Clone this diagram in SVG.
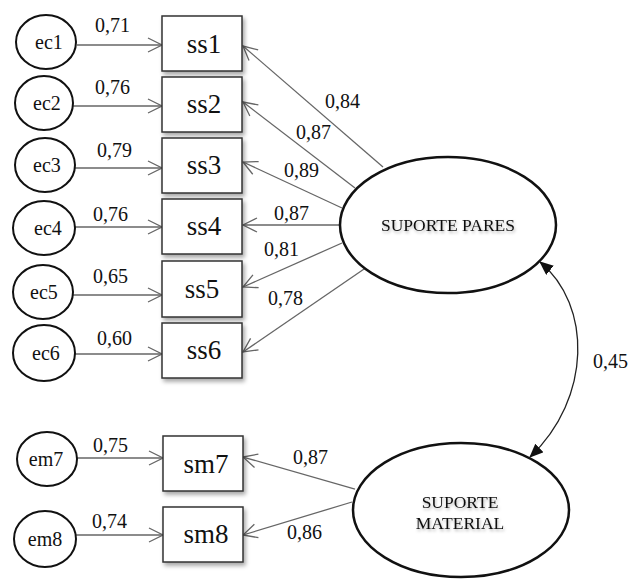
<svg xmlns="http://www.w3.org/2000/svg" width="632" height="579" viewBox="0 0 632 579">
<style>
text{font-family:"Liberation Serif","Times New Roman",serif;fill:#111}
.lbl{font-size:20px}
.etx{font-size:20px;text-anchor:middle}
.btx{font-size:27px;text-anchor:middle}
.ltx{font-size:17.5px;text-anchor:middle;filter:url(#tsh)}
.sm{fill:#fff;stroke:#111;stroke-width:2}
.big{fill:#fff;stroke:#111;stroke-width:2.5}
.box{fill:#fff;stroke:#333;stroke-width:1.5;filter:url(#sh)}
.ld{stroke:#666;stroke-width:1.3;fill:none;marker-end:url(#open)}
.cv{stroke:#222;stroke-width:1.3;fill:none;marker-start:url(#solid);marker-end:url(#solid)}
</style>
<defs>
<marker id="open" markerUnits="userSpaceOnUse" markerWidth="16" markerHeight="16" viewBox="0 0 16 16" refX="15" refY="8" orient="auto">
<path d="M1,1 L15,8 L1,15" fill="none" stroke="#666" stroke-width="1.3"/>
</marker>
<marker id="solid" markerUnits="userSpaceOnUse" markerWidth="14" markerHeight="12" viewBox="0 0 14 12" refX="13" refY="6" orient="auto-start-reverse">
<path d="M0,0 L14,6 L0,12 Z" fill="#111"/>
</marker>
<filter id="sh" x="-10%" y="-10%" width="130%" height="140%">
<feDropShadow dx="2" dy="3" stdDeviation="2" flood-color="#000" flood-opacity="0.35"/>
</filter>
<filter id="tsh" x="-10%" y="-30%" width="120%" height="180%">
<feDropShadow dx="1" dy="2" stdDeviation="1.5" flood-color="#000" flood-opacity="0.3"/>
</filter>
</defs>

<g id="connectors">
<line class="ld" x1="77" y1="45" x2="162" y2="45"/>
<line class="ld" x1="73" y1="106" x2="162" y2="106"/>
<line class="ld" x1="75" y1="168" x2="162" y2="168"/>
<line class="ld" x1="75" y1="227" x2="162" y2="227"/>
<line class="ld" x1="73" y1="295" x2="162" y2="295"/>
<line class="ld" x1="75" y1="354" x2="162" y2="354"/>
<line class="ld" x1="77" y1="458" x2="163" y2="458"/>
<line class="ld" x1="76" y1="535" x2="163" y2="535"/>
<line class="ld" x1="383" y1="167" x2="243" y2="46"/>
<line class="ld" x1="355" y1="188" x2="243" y2="102"/>
<line class="ld" x1="342" y1="208" x2="243" y2="162"/>
<line class="ld" x1="340" y1="225" x2="243" y2="225"/>
<line class="ld" x1="342" y1="243" x2="243" y2="287"/>
<line class="ld" x1="367" y1="267" x2="243" y2="352"/>
<line class="ld" x1="355" y1="489" x2="243" y2="457"/>
<line class="ld" x1="352" y1="502" x2="243" y2="535"/>
<path class="cv" d="M540,262 C592,305 592,398 530,457"/>
<text class="lbl" x="95" y="32">0,71</text>
<text class="lbl" x="95" y="94">0,76</text>
<text class="lbl" x="97" y="157">0,79</text>
<text class="lbl" x="93" y="221">0,76</text>
<text class="lbl" x="93" y="283">0,65</text>
<text class="lbl" x="97" y="345">0,60</text>
<text class="lbl" x="93" y="452">0,75</text>
<text class="lbl" x="92" y="528">0,74</text>
<text class="lbl" x="325" y="108">0,84</text>
<text class="lbl" x="296" y="139">0,87</text>
<text class="lbl" x="284" y="177">0,89</text>
<text class="lbl" x="274" y="220">0,87</text>
<text class="lbl" x="264" y="256">0,81</text>
<text class="lbl" x="268" y="305">0,78</text>
<text class="lbl" x="293" y="464">0,87</text>
<text class="lbl" x="287" y="539">0,86</text>
<text class="lbl" x="593" y="368">0,45</text>
</g>

<g id="ec1"><ellipse class="sm" cx="46" cy="42" rx="30" ry="27"/><text class="etx" x="49" y="49">ec1</text></g>
<g id="ec2"><ellipse class="sm" cx="44" cy="103" rx="29" ry="27"/><text class="etx" x="47" y="110">ec2</text></g>
<g id="ec3"><ellipse class="sm" cx="45" cy="165" rx="30" ry="27"/><text class="etx" x="47" y="172">ec3</text></g>
<g id="ec4"><ellipse class="sm" cx="44" cy="228" rx="31" ry="27"/><text class="etx" x="48" y="235">ec4</text></g>
<g id="ec5"><ellipse class="sm" cx="43" cy="292" rx="30" ry="27"/><text class="etx" x="44" y="299">ec5</text></g>
<g id="ec6"><ellipse class="sm" cx="44" cy="353" rx="31" ry="28"/><text class="etx" x="46" y="360">ec6</text></g>
<g id="em7"><ellipse class="sm" cx="47" cy="459" rx="30" ry="27"/><text class="etx" x="46" y="466">em7</text></g>
<g id="em8"><ellipse class="sm" cx="45" cy="539" rx="31" ry="28"/><text class="etx" x="45" y="546">em8</text></g>

<g id="ss1"><rect class="box" x="162" y="16" width="80" height="55"/><text class="btx" x="204" y="53">ss1</text></g>
<g id="ss2"><rect class="box" x="162" y="77" width="80" height="55"/><text class="btx" x="204" y="113">ss2</text></g>
<g id="ss3"><rect class="box" x="162" y="138" width="80" height="55"/><text class="btx" x="204" y="174">ss3</text></g>
<g id="ss4"><rect class="box" x="162" y="199" width="80" height="55"/><text class="btx" x="204" y="235">ss4</text></g>
<g id="ss5"><rect class="box" x="162" y="261" width="80" height="56"/><text class="btx" x="202" y="298">ss5</text></g>
<g id="ss6"><rect class="box" x="162" y="323" width="80" height="55"/><text class="btx" x="204" y="359">ss6</text></g>
<g id="sm7"><rect class="box" x="163" y="436" width="80" height="55"/><text class="btx" x="206" y="473">sm7</text></g>
<g id="sm8"><rect class="box" x="163" y="507" width="80" height="55"/><text class="btx" x="206" y="543">sm8</text></g>

<g id="suporte-pares"><ellipse class="big" cx="448" cy="225" rx="108" ry="68"/><text class="ltx" x="448" y="231">SUPORTE PARES</text></g>
<g id="suporte-material"><ellipse class="big" cx="461" cy="510" rx="108" ry="67"/><text class="ltx" x="460" y="508">SUPORTE</text><text class="ltx" x="460" y="529">MATERIAL</text></g>
</svg>
